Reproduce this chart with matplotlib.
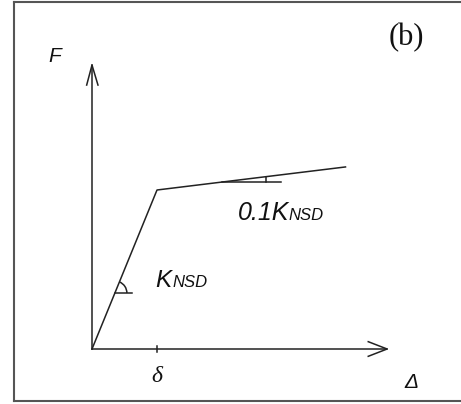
import matplotlib
matplotlib.use("Agg")
import matplotlib.pyplot as plt
from matplotlib.patches import Arc
from matplotlib.lines import Line2D

# ---- data (displacement in units of delta, force in units of yield force) ----
curve_x = [0.0, 1.0, 3.9]
curve_y = [0.0, 1.0, 1.145]
axis_x_len = 4.54
axis_y_len = 1.786
delta_tick = 1.0
label_F = "F"
label_D = "Δ"
label_delta = "δ"
label_panel = "(b)"
label_k1 = ("K", "NSD")
label_k2 = ("0.1K", "NSD")

W, H = 461, 404
fig = plt.figure(figsize=(W / 100, H / 100), dpi=100)
ax = fig.add_axes([0, 0, 1, 1])
ax.set_xlim(-92 / 65, (W - 92) / 65)
ax.set_ylim(-(H - 349) / 159, 349 / 159)
ax.axis("off")

lc = "#222222"
lw = 1.1

# axes
ax.plot([0, axis_x_len], [0, 0], color=lc, lw=lw)
ax.plot([0, 0], [0, axis_y_len], color=lc, lw=lw)
# open arrowheads
ax.plot([-0.082, 0, 0.092], [axis_y_len - 0.126, axis_y_len, axis_y_len - 0.126], color=lc, lw=lw)
ax.plot([axis_x_len - 0.29, axis_x_len, axis_x_len - 0.29], [0.046, 0, -0.046], color=lc, lw=lw)
# delta tick
ax.plot([delta_tick, delta_tick], [-0.02, 0.02], color=lc, lw=lw)

# force-displacement curve
ax.plot(curve_x, curve_y, color=lc, lw=lw)

# slope marker 1 (initial stiffness)
s1 = (curve_y[1] - curve_y[0]) / (curve_x[1] - curve_x[0])
yh = 0.352
xh = yh / s1
ax.plot([xh, 0.615], [yh, yh], color=lc, lw=lw)
ax.add_patch(Arc((xh, yh), 2 * 12 / 65, 2 * 12 / 159, theta1=0,
                 theta2=45, color=lc, lw=lw))

# slope marker 2 (post-yield stiffness)
s2 = (curve_y[2] - curve_y[1]) / (curve_x[2] - curve_x[1])
yh2 = 1.05
xh2 = curve_x[1] + (yh2 - curve_y[1]) / s2
ax.plot([xh2, 2.908], [yh2, yh2], color=lc, lw=lw)
xt = 2.677
ax.plot([xt, xt], [yh2, curve_y[1] + s2 * (xt - curve_x[1])], color=lc, lw=lw)

# frame
fl = dict(color="#555555", lw=1.5, transform=fig.transFigure)
fig.add_artist(Line2D([14 / W, 14 / W], [(H - 401) / H, (H - 2) / H], **fl))
fig.add_artist(Line2D([14 / W, 1], [(H - 2) / H, (H - 2) / H], **fl))
fig.add_artist(Line2D([14 / W, 1], [(H - 401) / H, (H - 401) / H], **fl))

sans = "Liberation Sans"
serif = "Liberation Serif"
tc = "#111111"

def fp(x, y):
    return (x, H - y)

ax.annotate(label_F, fp(55, 57), xycoords="figure pixels", ha="center", va="center",
            fontsize=15, style="italic", family=sans, color=tc)
ax.annotate(label_D, fp(411, 382), xycoords="figure pixels", ha="center", va="center",
            fontsize=15, style="italic", family=sans, color=tc)
ax.annotate(label_delta, fp(157, 377), xycoords="figure pixels", ha="center", va="center",
            fontsize=17, style="italic", family=serif, color=tc)
ax.annotate(label_panel, fp(406, 38), xycoords="figure pixels", ha="center", va="center",
            fontsize=22, family=serif, color=tc)

ax.annotate(label_k1[0], fp(155, 287), xycoords="figure pixels", ha="left", va="baseline",
            fontsize=17.5, style="italic", family=sans, color=tc)
ax.annotate(label_k1[1], fp(172, 287), xycoords="figure pixels", ha="left", va="baseline",
            fontsize=12, style="italic", family=sans, color=tc)
ax.annotate(label_k2[0], fp(238, 220), xycoords="figure pixels", ha="left", va="baseline",
            fontsize=18, style="italic", family=sans, color=tc)
ax.annotate(label_k2[1], fp(288, 220), xycoords="figure pixels", ha="left", va="baseline",
            fontsize=12, style="italic", family=sans, color=tc)

fig.savefig("out.png", dpi=100)
